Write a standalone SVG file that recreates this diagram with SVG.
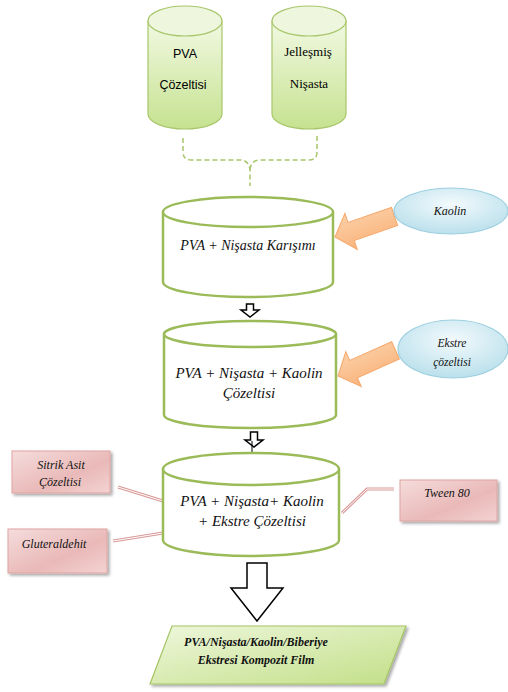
<svg xmlns="http://www.w3.org/2000/svg" width="508" height="692" viewBox="0 0 508 692">
<defs>
<linearGradient id="gGreen" x1="0" y1="0" x2="0" y2="1">
<stop offset="0" stop-color="#f1f9e2"/><stop offset="1" stop-color="#c6e290"/>
</linearGradient>
<linearGradient id="gPara" x1="0" y1="0" x2="1" y2="1">
<stop offset="0" stop-color="#eef7db"/><stop offset="1" stop-color="#c2df88"/>
</linearGradient>
<linearGradient id="gPink" x1="0" y1="0" x2="1" y2="1">
<stop offset="0" stop-color="#f5dcdc"/><stop offset="0.6" stop-color="#e9b9b8"/><stop offset="1" stop-color="#f3d3d2"/>
</linearGradient>
<radialGradient id="gBlue" cx="0.5" cy="0.35" r="0.7">
<stop offset="0" stop-color="#f3fafd"/><stop offset="1" stop-color="#b6deea"/>
</radialGradient>
<linearGradient id="gOrange" x1="0" y1="0" x2="0" y2="1">
<stop offset="0" stop-color="#fcd0a8"/><stop offset="1" stop-color="#f9b47c"/>
</linearGradient>
<filter id="sh" x="-20%" y="-20%" width="150%" height="150%">
<feDropShadow dx="2" dy="2" stdDeviation="1.5" flood-color="#000" flood-opacity="0.35"/>
</filter>
</defs>
<style>
.small{fill:url(#gGreen);stroke:#a8c66a;stroke-width:1.2}
.cyl{fill:#fff;stroke:#9bbb59;stroke-width:2.5}
.pink{fill:url(#gPink);stroke:#dfa3a2;stroke-width:1}
.blue{fill:url(#gBlue);stroke:#9ccfe0;stroke-width:1.2}
.orange{fill:url(#gOrange);stroke:#f6a86b;stroke-width:1}
.hollow{fill:#fff;stroke:#000;stroke-width:1.5}
.dash{fill:none;stroke:#a8c66a;stroke-width:1.5;stroke-dasharray:5 3}
.pl1{fill:none;stroke:#d89a98;stroke-width:3}
.pl2{fill:none;stroke:#fff;stroke-width:1}
.sans{font-family:"Liberation Sans",Arial,sans-serif;font-size:12.5px;fill:#000;text-anchor:middle}
.ser{font-family:"Liberation Serif","DejaVu Serif",serif;font-size:13px;fill:#000;text-anchor:middle}
.it{font-family:"Liberation Serif","DejaVu Serif",serif;font-style:italic;fill:#111;text-anchor:middle}
</style>

<g id="connectors">
<path class="dash" d="M183,138 V152 Q183,160 191,160 H240 Q249,160 250,170 V186"/>
<path class="dash" d="M317,136 V152 Q317,160 309,160 H260 Q251,160 250,170"/>
<polygon class="hollow" points="246.5,304 253.5,304 253.5,310 259,310 250,317 241,310 246.5,310"/>
<polygon class="hollow" points="250.5,432 257.5,432 257.5,440 263,440 254,447 245,440 250.5,440"/>
<line x1="252" y1="441" x2="252" y2="459" stroke="#000" stroke-width="1"/>
<polygon class="hollow" points="247,563 267,563 267,588 283,588 257,621 231,588 247,588"/>
<g id="arrow-kaolin" transform="translate(335,237) rotate(-19)">
<polygon class="orange" points="0,0 17,-19 17,-9.5 63,-9.5 63,9.5 17,9.5 17,19"/>
</g>
<g id="arrow-ekstre" transform="translate(338,376) rotate(-24)">
<polygon class="orange" points="0,0 17,-19 17,-9.5 63,-9.5 63,9.5 17,9.5 17,19"/>
</g>
<path class="pl1" d="M118,487 L163,501"/><path class="pl2" d="M118,487 L163,501"/>
<path class="pl1" d="M113,541 L163,533"/><path class="pl2" d="M113,541 L163,533"/>
<path class="pl1" d="M342,513 L367,489 L394,489"/><path class="pl2" d="M342,513 L367,489 L394,489"/>
</g>

<g id="pva-cozeltisi">
<path class="small" d="M148,21 V114 A37,15 0 0 0 222,114 V21 Z"/>
<ellipse class="small" cx="185" cy="21" rx="37" ry="15" style="fill:#eef7dd"/>
<text class="sans" x="185" y="58">PVA</text>
<text class="sans" x="183" y="89">Çözeltisi</text>
</g>

<g id="jellesmis-nisasta">
<path class="small" d="M272,21 V114 A37,15 0 0 0 346,114 V21 Z"/>
<ellipse class="small" cx="309" cy="21" rx="37" ry="15" style="fill:#eef7dd"/>
<text class="ser" x="308" y="56">Jelleşmiş</text>
<text class="ser" x="309" y="88">Nişasta</text>
</g>

<g id="karisim">
<path class="cyl" d="M163,212 V282 A85,15 0 0 0 333,282 V212"/>
<ellipse class="cyl" cx="248" cy="212" rx="85" ry="15"/>
<text class="it" x="248" y="250" font-size="14">PVA + Nişasta Karışımı</text>
</g>

<g id="kaolin">
<ellipse class="blue" cx="451" cy="211" rx="57" ry="23"/>
<text class="it" x="450" y="215" font-size="12">Kaolin</text>
</g>

<g id="kaolin-cozeltisi">
<path class="cyl" d="M164,334 V415 A86,13 0 0 0 336,415 V334"/>
<ellipse class="cyl" cx="250" cy="334" rx="86" ry="13"/>
<text class="it" x="249" y="378" font-size="15">PVA + Nişasta + Kaolin</text>
<text class="it" x="249" y="398" font-size="15">Çözeltisi</text>
</g>

<g id="ekstre">
<ellipse class="blue" cx="453" cy="349" rx="55" ry="29"/>
<text class="it" x="452" y="347" font-size="11.5">Ekstre</text>
<text class="it" x="452" y="366" font-size="11.5">çözeltisi</text>
</g>

<g id="ekstre-cozeltisi">
<path class="cyl" d="M163,469 V540 A88,16 0 0 0 339,540 V469"/>
<ellipse class="cyl" cx="251" cy="469" rx="88" ry="16"/>
<text class="it" x="252" y="506" font-size="15">PVA + Nişasta+ Kaolin</text>
<text class="it" x="252" y="526" font-size="15">+ Ekstre Çözeltisi</text>
</g>

<g id="sitrik-asit">
<rect class="pink" x="12" y="451" width="98" height="42" filter="url(#sh)"/>
<text class="it" x="61" y="469" font-size="12">Sitrik Asit</text>
<text class="it" x="60" y="486" font-size="12">Çözeltisi</text>
</g>

<g id="gluteraldehit">
<rect class="pink" x="8" y="529" width="99" height="44" filter="url(#sh)"/>
<text class="it" x="54" y="548" font-size="12">Gluteraldehit</text>
</g>

<g id="tween">
<rect class="pink" x="400" y="480" width="97" height="41" filter="url(#sh)"/>
<text class="it" x="447" y="497" font-size="12">Tween 80</text>
</g>

<g id="film">
<polygon points="172,626 406,626 384,684 150,684" fill="url(#gPara)" stroke="#a5c465" stroke-width="1.2" filter="url(#sh)"/>
<text class="it" x="256" y="646" font-size="12" font-weight="bold">PVA/Nişasta/Kaolin/Biberiye</text>
<text class="it" x="256" y="664" font-size="12" font-weight="bold">Ekstresi Kompozit Film</text>
</g>
</svg>
